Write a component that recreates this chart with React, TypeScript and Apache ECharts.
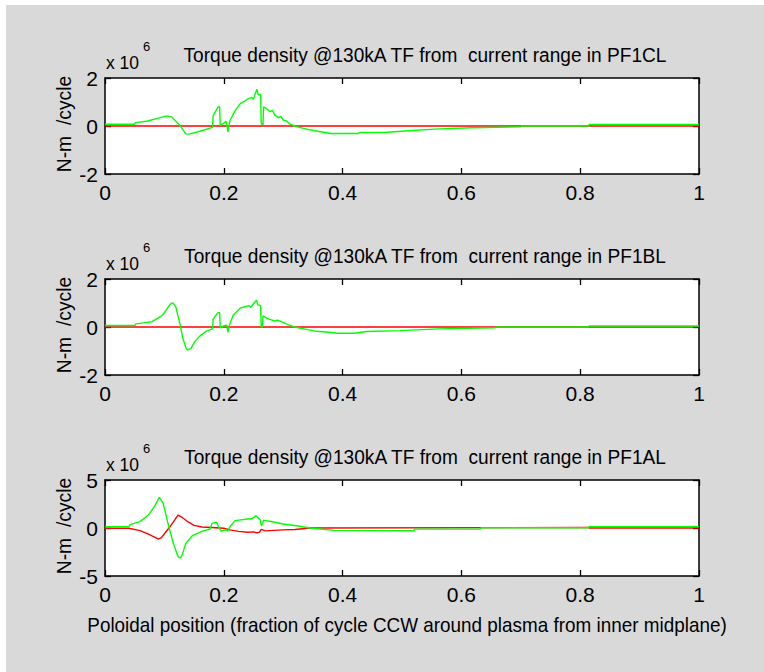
import React, { useEffect, useRef } from "react";
import * as echarts from "echarts";

const panelTitles = [
  "Torque density @130kA TF from  current range in PF1CL",
  "Torque density @130kA TF from  current range in PF1BL",
  "Torque density @130kA TF from  current range in PF1AL",
];
const yLabel = "N-m  /cycle";
const xLabel = "Poloidal position (fraction of cycle CCW around plasma from inner midplane)";
const yRanges = [
  [-2, 2, 2],
  [-2, 2, 2],
  [-5, 5, 5],
];

// PF1CL
const cGreenX = [0, 0.05, 0.051, 0.07, 0.09, 0.104, 0.112, 0.126, 0.136, 0.142, 0.16, 0.178, 0.181, 0.182, 0.19, 0.193, 0.194, 0.2, 0.204, 0.207, 0.21, 0.215, 0.22, 0.228, 0.236, 0.24, 0.247, 0.25, 0.253, 0.256, 0.258, 0.262, 0.263, 0.266, 0.267, 0.272, 0.278, 0.282, 0.286, 0.292, 0.296, 0.3, 0.306, 0.31, 0.319, 0.334, 0.353, 0.381, 0.426, 0.43, 0.475, 0.511, 0.555, 0.617, 0.7, 0.701, 0.814, 0.815, 1];
const cGreenY = [0.07, 0.07, 0.14, 0.2, 0.33, 0.42, 0.38, 0.03, -0.33, -0.34, -0.22, -0.08, -0.06, 0.42, 0.78, 0.8, 0.03, 0.12, 0.2, -0.24, 0.2, 0.45, 0.67, 0.94, 1.05, 1.12, 1.19, 1.12, 1.35, 1.53, 1.3, 1.3, 0.1, 0.05, 0.8, 0.72, 0.6, 0.65, 0.45, 0.35, 0.4, 0.25, 0.2, 0.1, 0.0, -0.1, -0.2, -0.31, -0.31, -0.27, -0.26, -0.2, -0.13, -0.07, -0.03, 0.0, 0.0, 0.06, 0.06];
const cRedX = [0, 0.62, 0.7, 1];
const cRedY = [0, 0, 0, 0];

// PF1BL
const bGreenX = [0, 0.05, 0.052, 0.065, 0.079, 0.09, 0.097, 0.105, 0.11, 0.114, 0.119, 0.126, 0.131, 0.136, 0.139, 0.145, 0.151, 0.159, 0.17, 0.181, 0.182, 0.19, 0.193, 0.194, 0.2, 0.205, 0.207, 0.21, 0.216, 0.222, 0.228, 0.242, 0.246, 0.25, 0.255, 0.257, 0.262, 0.263, 0.265, 0.266, 0.272, 0.28, 0.285, 0.29, 0.3, 0.306, 0.31, 0.319, 0.341, 0.356, 0.387, 0.39, 0.42, 0.44, 0.497, 0.562, 0.657, 0.66, 0.814, 0.815, 1];
const bGreenY = [0.06, 0.06, 0.13, 0.17, 0.22, 0.38, 0.5, 0.78, 0.95, 1.01, 0.86, 0.15, -0.47, -0.85, -0.96, -0.88, -0.61, -0.39, -0.18, -0.08, 0.33, 0.6, 0.6, -0.04, 0.05, 0.08, -0.22, 0.12, 0.5, 0.65, 0.79, 0.89, 0.82, 0.97, 1.12, 0.92, 0.9, 0.0, 0.02, 0.47, 0.37, 0.3, 0.25, 0.28, 0.19, 0.12, 0.08, 0.0, -0.11, -0.18, -0.24, -0.26, -0.26, -0.19, -0.15, -0.08, -0.03, 0, 0, 0.04, 0.04];
const bRedX = [0, 0.5, 1];
const bRedY = [0, 0, 0];

// PF1AL
const aGreenX = [0, 0.04, 0.042, 0.059, 0.073, 0.084, 0.0915, 0.098, 0.106, 0.115, 0.123, 0.127, 0.13, 0.136, 0.147, 0.163, 0.177, 0.18, 0.188, 0.192, 0.195, 0.205, 0.207, 0.21, 0.219, 0.24, 0.248, 0.254, 0.257, 0.262, 0.263, 0.265, 0.267, 0.28, 0.3, 0.322, 0.345, 0.385, 0.52, 0.521, 0.632, 0.633, 0.814, 0.815, 1];
const aGreenY = [0.14, 0.14, 0.35, 0.66, 1.35, 2.3, 3.2, 2.57, 0.49, -1.6, -2.99, -3.15, -2.8, -1.6, -0.8, -0.35, -0.1, 0.48, 0.6, 0.0, -0.3, -0.2, -0.3, 0.1, 0.77, 0.94, 1.0, 1.28, 1.1, 0.8, 0.25, 0.4, 0.8, 0.68, 0.42, 0.24, 0.0, -0.25, -0.28, -0.12, -0.1, 0.03, 0.03, 0.14, 0.14];
const aRedX = [0, 0.04, 0.059, 0.075, 0.09, 0.095, 0.1, 0.109, 0.118, 0.123, 0.13, 0.14, 0.15, 0.163, 0.18, 0.2, 0.21, 0.225, 0.24, 0.25, 0.255, 0.26, 0.263, 0.27, 0.3, 0.32, 0.345, 0.814, 0.815, 1];
const aRedY = [-0.03, -0.03, -0.28, -0.7, -1.15, -1.0, -0.6, 0.1, 0.9, 1.35, 1.1, 0.63, 0.28, 0.1, 0.05, -0.03, -0.2, -0.35, -0.45, -0.4, -0.5, -0.45, -0.15, -0.3, -0.2, -0.15, 0.0, 0.05, 0.0, 0.0];

const panels = [
  { red: [cRedX, cRedY], green: [cGreenX, cGreenY] },
  { red: [bRedX, bRedY], green: [bGreenX, bGreenY] },
  { red: [aRedX, aRedY], green: [aGreenX, aGreenY] },
];

const FONT = "'Liberation Sans', Arial, sans-serif";
const gridTops = [78, 279, 480];
const GRID_LEFT = 105;
const GRID_W = 594;
const GRID_H = 96;

const zip = (xs: number[], ys: number[]) => xs.map((x, i) => [x, ys[i]]);
const mkTick = () => ({ show: true, inside: true, length: 6, lineStyle: { color: "#000000", width: 1.3 } });
const mkLine = () => ({ show: true, onZero: false, lineStyle: { color: "#000000", width: 1.5 } });

export default function App() {
  const ref = useRef<HTMLDivElement>(null);
  useEffect(() => {
    if (!ref.current) return;
    const chart = echarts.init(ref.current, undefined, { renderer: "svg" });
    const grids: any[] = [];
    const xAxes: any[] = [];
    const yAxes: any[] = [];
    const series: any[] = [];
    const graphics: any[] = [
      { type: "rect", shape: { x: 0, y: 0, width: 764, height: 5 }, style: { fill: "#ffffff" } },
      { type: "rect", shape: { x: 0, y: 0, width: 6, height: 672 }, style: { fill: "#ffffff" } },
      {
        type: "text", x: 407, y: 625, scaleX: 0.9,
        style: { text: xLabel, fill: "#000", font: `21px ${FONT}`, textAlign: "center", textVerticalAlign: "middle" },
      },
    ];
    panels.forEach((p, i) => {
      const top = gridTops[i];
      const [ymin, ymax, yint] = yRanges[i];
      grids.push({
        left: GRID_LEFT, top, width: GRID_W, height: GRID_H, show: true,
        backgroundColor: "#ffffff", borderWidth: 0,
      });
      xAxes.push({
        type: "value", gridIndex: i, min: 0, max: 1, interval: 0.2, position: "bottom",
        axisLine: mkLine(), splitLine: { show: false }, axisTick: mkTick(),
        axisLabel: {
          color: "#000", fontSize: 21, fontFamily: FONT, margin: 8,
          formatter: (v: number) => String(+v.toFixed(1)),
        },
      });
      xAxes.push({
        type: "value", gridIndex: i, min: 0, max: 1, interval: 0.2, position: "top",
        axisLine: mkLine(), splitLine: { show: false }, axisTick: mkTick(), axisLabel: { show: false },
      });
      yAxes.push({
        type: "value", gridIndex: i, min: ymin, max: ymax, interval: yint, position: "left",
        axisLine: mkLine(), splitLine: { show: false }, axisTick: mkTick(),
        axisLabel: { color: "#000", fontSize: 21, fontFamily: FONT, margin: 7 },
      });
      yAxes.push({
        type: "value", gridIndex: i, min: ymin, max: ymax, interval: yint, position: "right",
        axisLine: mkLine(), splitLine: { show: false }, axisTick: mkTick(), axisLabel: { show: false },
      });
      series.push({
        type: "line", xAxisIndex: 2 * i, yAxisIndex: 2 * i, data: zip(p.red[0], p.red[1]),
        showSymbol: false, symbol: "none", lineStyle: { color: "#ff0000", width: 1.4 }, itemStyle: { color: "#ff0000" },
      });
      series.push({
        type: "line", xAxisIndex: 2 * i, yAxisIndex: 2 * i, data: zip(p.green[0], p.green[1]),
        showSymbol: false, symbol: "none", lineStyle: { color: "#00ff00", width: 1.4 }, itemStyle: { color: "#00ff00" },
      });
      graphics.push({
        type: "text", x: 425, y: top - 23, scaleX: 0.91,
        style: { text: panelTitles[i], fill: "#000", font: `21px ${FONT}`, textAlign: "center", textVerticalAlign: "middle" },
      });
      graphics.push({
        type: "text", x: 64, y: top + GRID_H / 2 - 2, rotation: Math.PI / 2, scaleX: 0.92,
        style: { text: yLabel, fill: "#000", font: `21px ${FONT}`, textAlign: "center", textVerticalAlign: "middle" },
      });
      graphics.push({
        type: "text", x: 106, y: top - 16, scaleX: 0.92,
        style: { text: "x 10", fill: "#000", font: `19px ${FONT}`, textAlign: "left", textVerticalAlign: "middle" },
      });
      graphics.push({
        type: "text", x: 143, y: top - 32,
        style: { text: "6", fill: "#000", font: `13px ${FONT}`, textAlign: "left", textVerticalAlign: "middle" },
      });
    });
    chart.setOption({
      animation: false,
      backgroundColor: "#d9d9d9",
      grid: grids,
      xAxis: xAxes,
      yAxis: yAxes,
      series,
      graphic: graphics,
    });
    return () => chart.dispose();
  }, []);
  return <div ref={ref} style={{ position: "absolute", left: 0, top: 0, width: 764, height: 672 }} />;
}
